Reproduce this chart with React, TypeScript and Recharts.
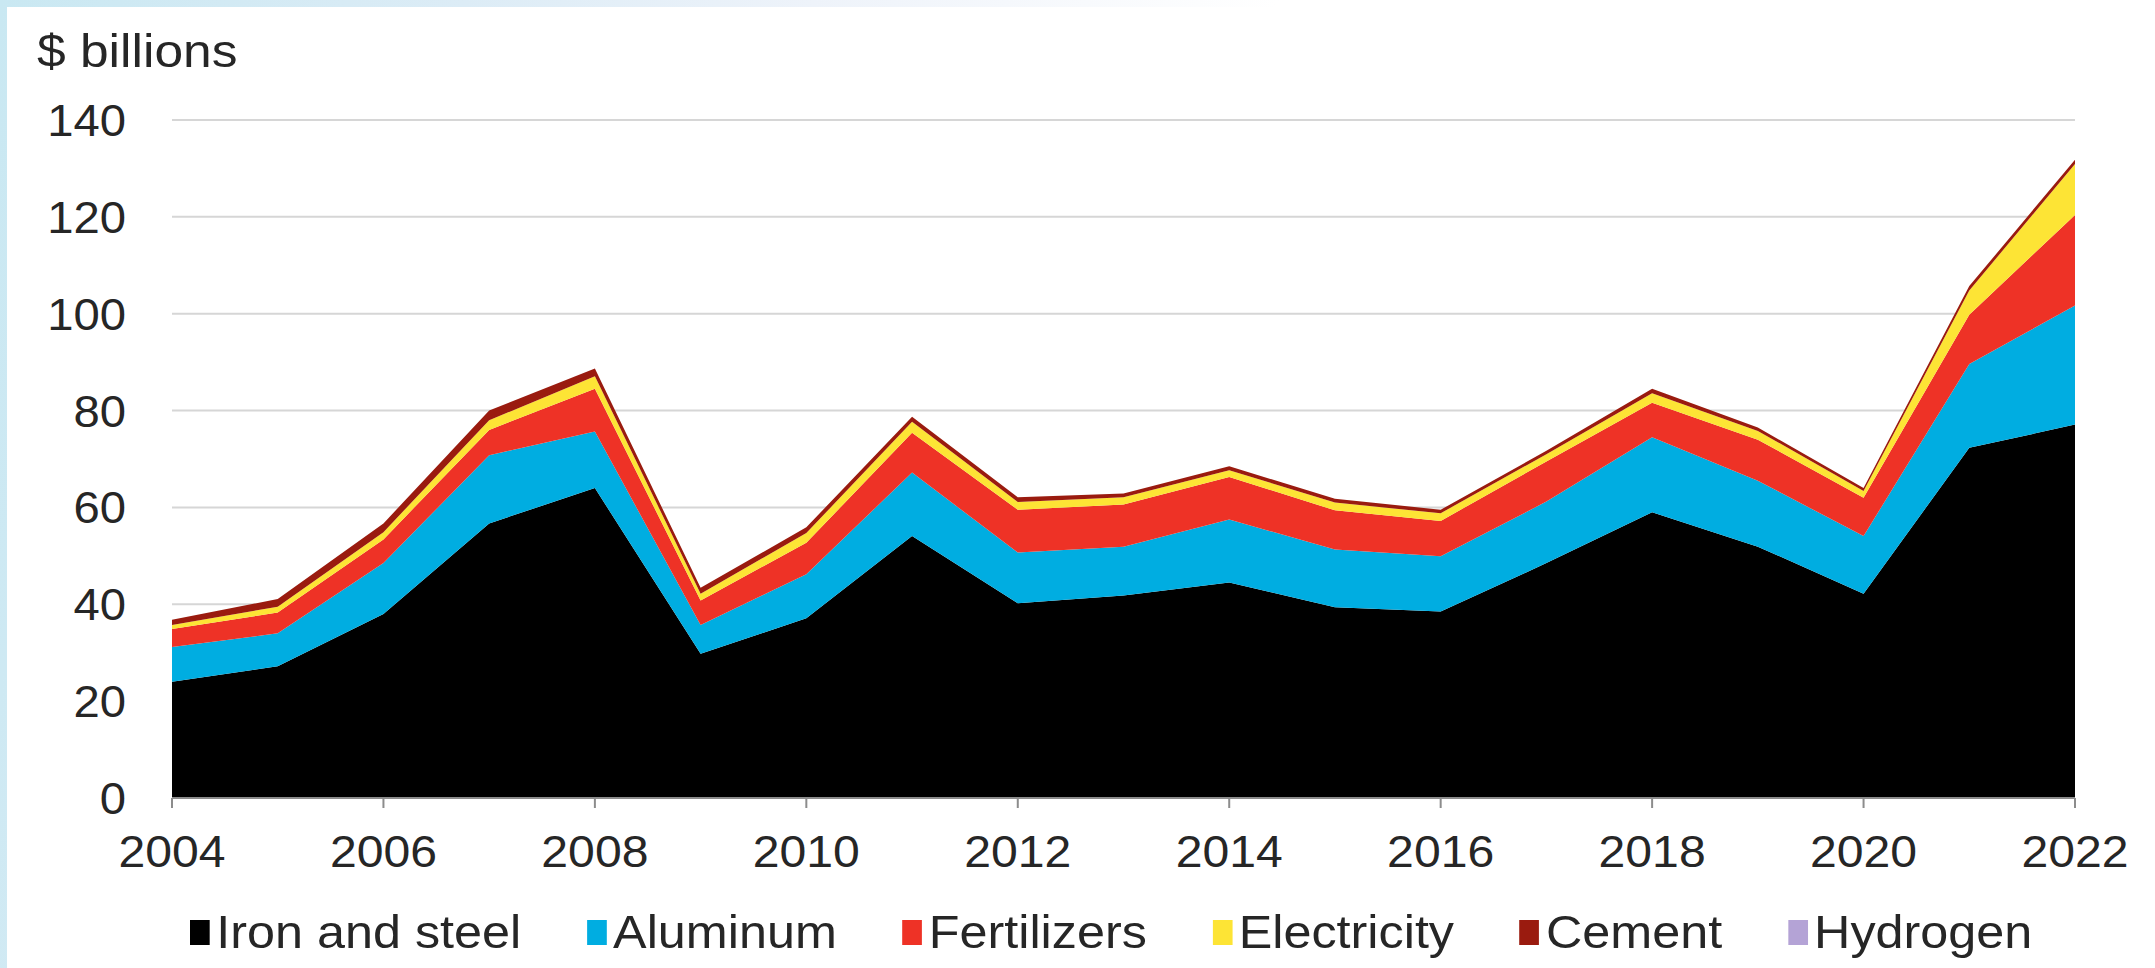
import { Area, AreaChart, CartesianGrid, XAxis, YAxis } from "recharts";

const years = [2004, 2005, 2006, 2007, 2008, 2009, 2010, 2011, 2012, 2013, 2014, 2015, 2016, 2017, 2018, 2019, 2020, 2021, 2022];
const ironSteel = [24, 27.2, 38, 56.7, 64, 29.8, 37.1, 54.1, 40.2, 41.8, 44.5, 39.4, 38.5, 48.5, 59, 51.9, 42.2, 72.3, 77.1];
const aluminum = [7.2, 6.8, 10.5, 14.1, 11.7, 5.9, 9.1, 13.1, 10.5, 10.1, 13, 11.9, 11.4, 12.7, 15.5, 13.6, 11.9, 17.3, 24.6];
const fertilizers = [3.7, 4.3, 4.9, 5.2, 8.8, 5.1, 6.5, 8.2, 8.8, 8.7, 8.8, 8.1, 7.3, 8.3, 7.1, 8.5, 7.9, 10.2, 18.7];
const electricity = [0.8, 1.2, 1.5, 2, 2.6, 1.4, 2, 2.3, 1.6, 1.5, 1.4, 1.6, 1.6, 1.5, 2, 1.8, 1.4, 5, 10.5];
const cement = [1.1, 1.6, 1.8, 2, 1.6, 1.2, 1.2, 1, 1, 0.8, 0.8, 0.8, 0.7, 0.7, 0.9, 0.7, 0.6, 0.9, 0.9];
const hydrogen = [0, 0, 0, 0, 0, 0, 0, 0, 0, 0, 0, 0, 0, 0, 0, 0, 0, 0, 0];

const xTicks = [2004, 2006, 2008, 2010, 2012, 2014, 2016, 2018, 2020, 2022];
const yTicks = [0, 20, 40, 60, 80, 100, 120, 140];

const SERIES = [
  { key: "iron", label: "Iron and steel", color: "#000000", values: ironSteel },
  { key: "aluminum", label: "Aluminum", color: "#00ADE1", values: aluminum },
  { key: "fertilizers", label: "Fertilizers", color: "#EE3226", values: fertilizers },
  { key: "electricity", label: "Electricity", color: "#FDE435", values: electricity },
  { key: "cement", label: "Cement", color: "#9A1B0F", values: cement },
  { key: "hydrogen", label: "Hydrogen", color: "#B4A3D6", values: hydrogen },
];

const data = years.map((year, i) => {
  const row: Record<string, number> = { year };
  SERIES.forEach((s) => {
    row[s.key] = s.values[i];
  });
  return row;
});

const FONT = "'Liberation Sans', Arial, sans-serif";
const TEXT = "#262626";

// the source text is slightly wider than Arial, so stretch it a bit
function XTick({ x, y, payload }: any) {
  return (
    <g transform={`translate(${x},${y})`}>
      <text
        transform="scale(1.07,1)"
        textAnchor="middle"
        dy="0.71em"
        fontSize={45}
        fontFamily={FONT}
        fill={TEXT}
      >
        {payload.value}
      </text>
    </g>
  );
}

function YTick({ x, y, payload }: any) {
  return (
    <g transform={`translate(${x},${y})`}>
      <text
        transform="scale(1.05,1)"
        textAnchor="end"
        dy="0.355em"
        fontSize={45}
        fontFamily={FONT}
        fill={TEXT}
      >
        {payload.value}
      </text>
    </g>
  );
}

export default function App() {
  return (
    <div
      style={{
        position: "relative",
        width: 2155,
        height: 968,
        overflow: "hidden",
        background: "linear-gradient(100deg, #c9e8f2 0%, #dcecf6 20%, #eef3fa 35%, #ffffff 55%)",
      }}
    >
      <style>{`body{margin:0}`}</style>
      <div
        style={{
          position: "absolute",
          left: 7,
          top: 7,
          right: 0,
          bottom: 0,
          background: "#ffffff",
        }}
      />
      <div
        style={{
          position: "absolute",
          left: 37,
          top: 24,
          fontFamily: FONT,
          fontSize: 46,
          color: TEXT,
          transform: "scaleX(1.12)",
          transformOrigin: "left center",
        }}
      >
        $ billions
      </div>
      <div style={{ position: "absolute", left: 0, top: 0 }}>
        <AreaChart
          width={2155}
          height={968}
          data={data}
          margin={{ top: 120, right: 80, bottom: 110, left: 22 }}
        >
          <CartesianGrid vertical={false} stroke="#d6d6d6" strokeWidth={2} />
          <XAxis
            dataKey="year"
            type="number"
            domain={[2004, 2022]}
            ticks={xTicks}
            height={60}
            stroke="#8c8c8c"
            strokeWidth={2}
            tickSize={10}
            tickMargin={27}
            tick={<XTick />}
          />
          <YAxis
            domain={[0, 140]}
            ticks={yTicks}
            width={150}
            axisLine={false}
            tickLine={false}
            tickSize={0}
            tickMargin={46}
            tick={<YTick />}
          />
          {SERIES.map((s) => (
            <Area
              key={s.key}
              type="linear"
              dataKey={s.key}
              stackId="1"
              fill={s.color}
              fillOpacity={1}
              stroke="none"
              isAnimationActive={false}
            />
          ))}
        </AreaChart>
      </div>
      <div
        style={{
          position: "absolute",
          left: 190,
          top: 905,
          display: "flex",
          gap: 60,
          fontFamily: FONT,
          fontSize: 46,
          color: TEXT,
          whiteSpace: "nowrap",
          transform: "scaleX(1.094)",
          transformOrigin: "left center",
        }}
      >
        {SERIES.map((s) => (
          <div key={s.key} style={{ display: "flex", alignItems: "center", gap: 6 }}>
            <span style={{ width: 18, height: 25, background: s.color, display: "inline-block" }} />
            <span>{s.label}</span>
          </div>
        ))}
      </div>
    </div>
  );
}
